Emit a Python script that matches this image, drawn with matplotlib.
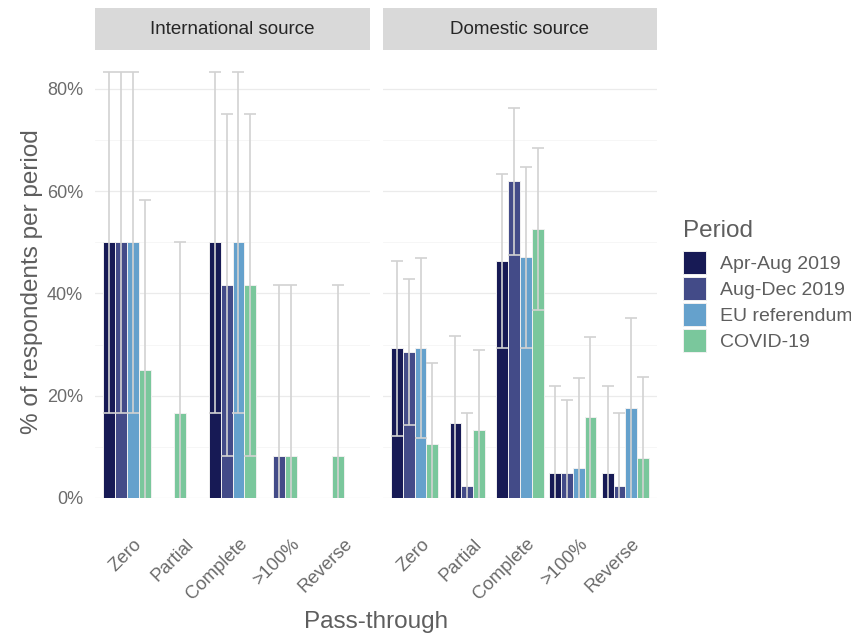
import matplotlib.pyplot as plt
import numpy as np
from matplotlib.patches import Patch, Rectangle
from matplotlib.transforms import ScaledTranslation

plt.rcParams['font.family'] = ['Liberation Sans', 'DejaVu Sans']

nan = np.nan

categories = ['Zero', 'Partial', 'Complete', '>100%', 'Reverse']
periods = ['Apr-Aug 2019', 'Aug-Dec 2019', 'EU referendum', 'COVID-19']
colors = ['#171a55', '#434b88', '#65a1cc', '#7ac79c']

# International source: share per period (rows) and pass-through type (columns)
intl_pct = [[50.0, nan, 50.0, nan, nan],
            [50.0, nan, 41.7, 8.3, nan],
            [50.0, nan, 50.0, nan, nan],
            [25.0, 16.7, 41.7, 8.3, 8.3]]
intl_lo = [[16.7, nan, 16.7, nan, nan],
           [16.7, nan, 8.3, -25.0, nan],
           [16.7, nan, 16.7, nan, nan],
           [-8.3, -16.7, 8.3, -25.0, -25.0]]
intl_hi = [[83.3, nan, 83.3, nan, nan],
           [83.3, nan, 75.0, 41.7, nan],
           [83.3, nan, 83.3, nan, nan],
           [58.3, 50.0, 75.0, 41.7, 41.7]]

# Domestic source
dom_pct = [[29.3, 14.6, 46.3, 4.9, 4.9],
           [28.6, 2.4, 61.9, 4.8, 2.4],
           [29.4, nan, 47.1, 5.9, 17.6],
           [10.5, 13.2, 52.6, 15.8, 7.9]]
dom_lo = [[12.2, -2.4, 29.3, -12.1, -12.1],
          [14.3, -11.9, 47.6, -9.5, -11.9],
          [11.8, nan, 29.4, -11.7, -0.3],
          [-5.2, -2.6, 36.8, -0.3, -7.9]]
dom_hi = [[46.3, 31.6, 63.3, 21.9, 21.9],
          [42.9, 16.7, 76.2, 19.1, 16.7],
          [47.0, nan, 64.7, 23.5, 35.2],
          [26.3, 29.0, 68.4, 31.5, 23.7]]

axis_grey = '#6b6b6b'
title_grey = '#5e5e5e'


def draw_panel(ax, pct, lo, hi, title):
    width = 0.225
    for j in range(len(categories)):
        present = [i for i in range(len(periods)) if not np.isnan(pct[i][j])]
        n = len(present)
        for k, i in enumerate(present):
            x = j + (k - (n - 1) / 2) * width
            v = pct[i][j]
            ax.bar(x, v, width, color=colors[i], edgecolor='#f0f0f0',
                   linewidth=0.7, zorder=2)
            ax.errorbar(x, v, yerr=[[v - lo[i][j]], [hi[i][j] - v]],
                        fmt='none', ecolor='#d2d2d2', elinewidth=1.2,
                        capsize=4.2, capthick=1.2, zorder=3)

    ax.set_xlim(-0.6, len(categories) - 0.4)
    ax.set_ylim(0, 87.2)
    ax.set_yticks([0, 20, 40, 60, 80])
    ax.set_yticks([10, 30, 50, 70], minor=True)
    ax.set_yticklabels(['0%', '20%', '40%', '60%', '80%'])
    ax.yaxis.grid(True, which='major', color='#ebebeb', linewidth=0.9)
    ax.yaxis.grid(True, which='minor', color='#f5f5f5', linewidth=0.6)
    ax.set_axisbelow(True)
    for s in ax.spines.values():
        s.set_visible(False)
    ax.tick_params(which='both', length=0)
    ax.tick_params(axis='y', labelsize=13, labelcolor=axis_grey, pad=8.5)
    ax.tick_params(axis='x', labelsize=13.3, labelcolor=axis_grey, pad=27)

    ax.set_xticks(range(len(categories)))
    ax.set_xticklabels(categories, rotation=45, ha='right', va='top',
                       rotation_mode='anchor')
    shift = ScaledTranslation(6 / 100, 0, ax.figure.dpi_scale_trans)
    for lab in ax.get_xticklabels():
        lab.set_transform(lab.get_transform() + shift)

    # facet strip
    ax.add_patch(Rectangle((0, 1.0045), 1, 0.094, transform=ax.transAxes,
                           facecolor='#d9d9d9', edgecolor='none', clip_on=False))
    ax.text(0.5, 1.0045 + 0.047, title, transform=ax.transAxes, ha='center',
            va='center', fontsize=13.5, color='#262626')


fig = plt.figure(figsize=(8.51, 6.36), dpi=100)
ax1 = fig.add_axes([95 / 851, 1 - 498 / 636, 275 / 851, 446 / 636])
ax2 = fig.add_axes([383 / 851, 1 - 498 / 636, 274 / 851, 446 / 636])

draw_panel(ax1, intl_pct, intl_lo, intl_hi, 'International source')
draw_panel(ax2, dom_pct, dom_lo, dom_hi, 'Domestic source')
ax2.tick_params(axis='y', labelleft=False)

fig.text(32 / 851, 1 - 282 / 636, '% of respondents per period', rotation=90,
         ha='center', va='center', fontsize=17.5, color=title_grey)
fig.text(376 / 851, 1 - 622 / 636, 'Pass-through', ha='center', va='center',
         fontsize=17.5, color=title_grey)

# legend: title placed separately so the gap above the keys can be set
fig.text(683 / 851, 1 - 237 / 636, 'Period', ha='left', va='baseline',
         fontsize=17.5, color=title_grey)
handles = [Patch(facecolor=c, edgecolor='#f0f0f0', linewidth=0.7) for c in colors]
leg = fig.legend(handles, periods, loc='upper left',
                 bbox_to_anchor=(683 / 851, 1 - 251 / 636), frameon=False,
                 fontsize=14, borderpad=0, borderaxespad=0,
                 handlelength=1.18, handleheight=1.44, handletextpad=0.72,
                 labelspacing=0.15)
for t in leg.get_texts():
    t.set_color(title_grey)

fig.savefig('out.png', dpi=100)
